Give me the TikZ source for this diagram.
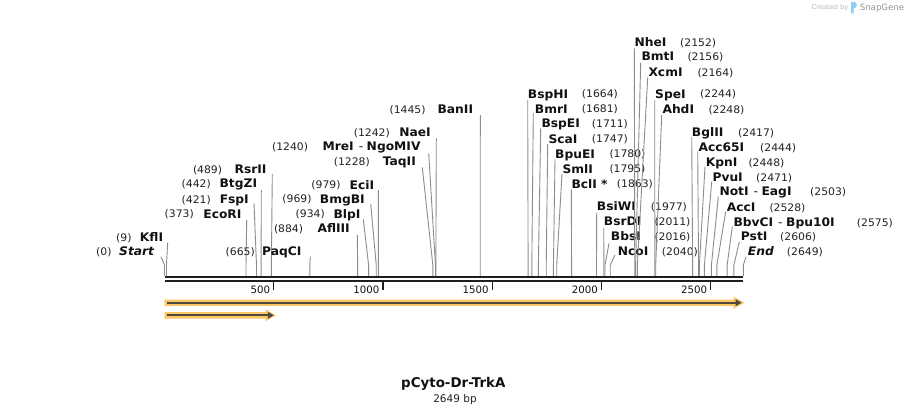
\documentclass[tikz,border=0pt]{standalone}
\usepackage{fontspec}
\setmainfont{DejaVu Sans}
\newfontfamily\namefam[FakeStretch=1.04]{DejaVu Sans}
\newfontfamily\numfam[FakeStretch=1.04]{DejaVu Sans}
\definecolor{axisc}{HTML}{1E1E1E}
\definecolor{cutc}{HTML}{8C8C8C}
\definecolor{featc}{HTML}{FDC664}
\definecolor{featd}{HTML}{4F483C}
\definecolor{txtc}{HTML}{111111}
\definecolor{numc}{HTML}{222222}
\definecolor{sgblue}{HTML}{8FCDF2}
\tikzset{
  nm/.style={font=\namefam\bfseries\fontsize{11.8}{13}\selectfont, inner sep=0pt, text=txtc},
  num/.style={font=\numfam\fontsize{10.4}{12}\selectfont, inner sep=0pt, text=numc},
  cutline/.style={draw=cutc, line width=0.9pt},
  ticklbl/.style={font=\fontsize{10.2}{12}\selectfont, inner sep=0pt, text=txtc, anchor=base east},
}
% right-hand label: name, number, name x, number x, y, top x, top y, bp
\newcommand\cutR[8]{%
  \pgfmathsetmacro\sx{164.5+0.2185*#8}%
  \node[nm, anchor=base west] (n#8) at (#3,#5+4.2) {#1};
  \node[num, anchor=base west] (p#8) at (#4,#5+3.8) {#2};
  \coordinate (t#8) at (#6,#7);
  \coordinate (b#8) at (\sx,265);
  \coordinate (s#8) at (\sx,276);
  \draw[cutline] (t#8) -- (b#8) -- (s#8);
}
% left-hand label: name, number, name end x, number end x, y, top x, top y, bp
\newcommand\cutL[8]{%
  \pgfmathsetmacro\sx{164.5+0.2185*#8}%
  \node[nm, anchor=base east] (n#8) at (#3,#5+4.2) {#1};
  \node[num, anchor=base east] (p#8) at (#4,#5+3.8) {#2};
  \coordinate (t#8) at (#6,#7);
  \coordinate (b#8) at (\sx,265);
  \coordinate (s#8) at (\sx,276);
  \draw[cutline] (t#8) -- (b#8) -- (s#8);
}
\begin{document}
\begin{tikzpicture}[x=1pt,y=-1pt]
\useasboundingbox[fill=white] (0,0) rectangle (909,415);

% SnapGene credit
\node[inner sep=0pt, anchor=base west, text=black!28, font=\fontsize{6.6}{8}\selectfont] (cr) at (811.7,9.2) {Created by};
\fill[sgblue] (851,13.3) -- (851,2) -- (854.3,2) .. controls (857.6,2) and (857.6,8.2) .. (854.3,8.2) -- (853.6,8.2) -- (853.6,13.3) -- cycle;
\node[inner sep=0pt, anchor=base west, text=black!42, font=\fontsize{8.6}{10}\selectfont] (sg) at (859.6,10.4) {SnapGene};

% left-hand labels
\cutL{\itshape Start}{(0)}{154.3}{111.7}{251.7}{161}{256.7}{0}
\cutL{KflI}{(9)}{163.3}{131.7}{237.3}{167.7}{242.7}{9}
\cutL{EcoRI}{(373)}{241.7}{194}{214}{246.7}{220}{373}
\cutL{FspI}{(421)}{249}{211}{199.3}{254}{203.3}{421}
\cutL{BtgZI}{(442)}{257.3}{211}{183.3}{261.3}{190}{442}
\cutL{RsrII}{(489)}{266.7}{222.3}{169.3}{272.3}{174}{489}
\cutL{PaqCI}{(665)}{301.7}{255}{251.7}{310.3}{256.7}{665}
\cutL{AflIII}{(884)}{350}{303.3}{228.3}{357.3}{235}{884}
\cutL{BlpI}{(934)}{360.7}{325}{214}{363.3}{219.3}{934}
\cutL{BmgBI}{(969)}{365}{311.7}{199}{370.7}{204}{969}
\cutL{EciI}{(979)}{374.3}{340.7}{185}{378.3}{190}{979}
\cutL{TaqII}{(1228)}{416}{370}{161.7}{422.3}{167.3}{1228}
\cutL{MreI\hspace{5pt}{\mdseries -}\hspace{3.5pt}NgoMIV}{(1240)}{420.7}{308.3}{146.7}{428.7}{153.3}{1240}
\cutL{NaeI}{(1242)}{431}{390}{132.3}{436.3}{138.3}{1242}
\cutL{BanII}{(1445)}{473.3}{425.7}{109.3}{480.3}{115}{1445}

% right-hand labels
\cutR{BspHI}{(1664)}{527.7}{581.7}{94}{527.7}{100}{1664}
\cutR{BmrI}{(1681)}{534.7}{581.7}{109}{533.3}{113.3}{1681}
\cutR{BspEI}{(1711)}{541.3}{591.7}{123.3}{540.7}{128.3}{1711}
\cutR{ScaI}{(1747)}{548.3}{591.7}{139}{547.7}{144}{1747}
\cutR{BpuEI}{(1780)}{555}{609.3}{154}{555}{159}{1780}
\cutR{SmlI}{(1795)}{562.3}{609.3}{169}{562}{174}{1795}
\cutR{BclI *}{(1863)}{571.3}{616.7}{184}{571.3}{189.3}{1863}
\cutR{BsiWI}{(1977)}{596.7}{650.7}{206.7}{596.7}{212.7}{1977}
\cutR{BsrDI}{(2011)}{603.7}{654.3}{221.7}{603.7}{227.7}{2011}
\cutR{BbsI}{(2016)}{610.7}{654.3}{236.7}{609}{243.3}{2016}
\cutR{NcoI}{(2040)}{617.7}{661.7}{251.7}{615}{255}{2040}
\cutR{NheI}{(2152)}{634.3}{680}{42.3}{634.3}{48.3}{2152}
\cutR{BmtI}{(2156)}{641.3}{687.3}{56.7}{640.7}{62.7}{2156}
\cutR{XcmI}{(2164)}{648.3}{697.3}{72.3}{647.7}{77.7}{2164}
\cutR{SpeI}{(2244)}{655}{700}{94}{654.7}{100}{2244}
\cutR{AhdI}{(2248)}{662.3}{708.3}{109.3}{661.7}{115}{2248}
\cutR{BglII}{(2417)}{691.7}{738}{132.5}{691.7}{137}{2417}
\cutR{Acc65I}{(2444)}{698.3}{760}{147.3}{697.7}{151.7}{2444}
\cutR{KpnI}{(2448)}{705.7}{748.3}{162.3}{705}{166.7}{2448}
\cutR{PvuI}{(2471)}{712.3}{756}{177.3}{711.7}{181.7}{2471}
\cutR{NotI\hspace{5pt}{\mdseries -}\hspace{3.5pt}EagI}{(2503)}{719.3}{810}{191.7}{718.3}{196.7}{2503}
\cutR{AccI}{(2528)}{726.7}{769.3}{207.3}{725.7}{211.7}{2528}
\cutR{BbvCI\hspace{5pt}{\mdseries -}\hspace{3.5pt}Bpu10I}{(2575)}{733.3}{856.7}{222.3}{732.3}{226.7}{2575}
\cutR{PstI}{(2606)}{740.7}{780}{236.7}{739.3}{241.7}{2606}
\cutR{\itshape End}{(2649)}{747.7}{786.7}{251.7}{746}{256.7}{2649}

% sequence axis
\draw[axisc, line width=2.6pt] (164.5,277) -- (743.3,277);
\draw[axisc, line width=2.3pt] (164.5,281.2) -- (743.3,281.2);
\foreach \t in {500,1000,1500,2000,2500}{
  \pgfmathsetmacro\tx{164.5+0.2185*\t}
  \draw[axisc, line width=1.4pt] (\tx,282) -- (\tx,289.8);
  \node[ticklbl] (tk\t) at (\tx-3.5,293.4) {\t};
}

% features
\fill[featc] (164.5,299.5) -- (733.5,299.5) -- (733.5,296.7) -- (744.4,302.7) -- (733.5,308.7) -- (733.5,305.9) -- (164.5,305.9) -- cycle;
\draw[featd, line width=2.2pt] (166.5,302.7) -- (736.5,302.7);
\fill[featd] (735.6,299.2) -- (741.6,302.7) -- (735.6,306.2) -- cycle;

\fill[featc] (164.5,312.1) -- (265.5,312.1) -- (265.5,309.3) -- (275.8,315.3) -- (265.5,321.3) -- (265.5,318.5) -- (164.5,318.5) -- cycle;
\draw[featd, line width=2.2pt] (166.5,315.3) -- (268.5,315.3);
\fill[featd] (267.8,311.8) -- (273.8,315.3) -- (267.8,318.8) -- cycle;

% title
\node[inner sep=0pt, text=txtc, font=\bfseries\fontsize{13.4}{15}\selectfont] (title) at (453.3,384) {pCyto-Dr-TrkA};
\node[inner sep=0pt, text=numc, font=\fontsize{10.5}{12}\selectfont] (len) at (455,399.5) {2649 bp};
\end{tikzpicture}
\end{document}
